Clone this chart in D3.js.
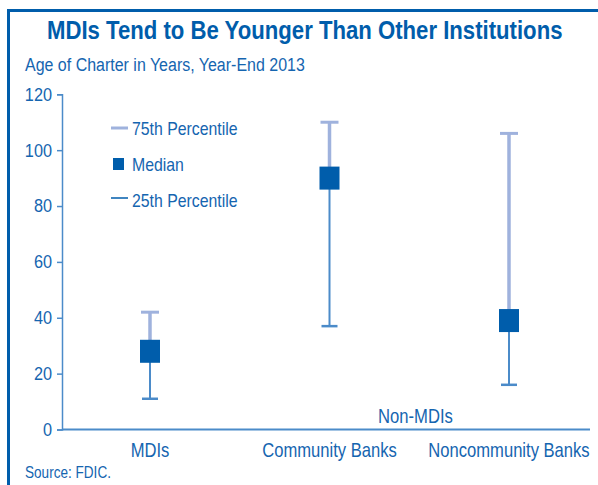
<!DOCTYPE html>
<html>
<head>
<meta charset="utf-8">
<script src="https://cdn.jsdelivr.net/npm/d3@7"></script>
<style>
  html, body { margin: 0; padding: 0; background: #fff; }
  svg { display: block; font-family: "Liberation Sans", Arial, sans-serif; }
</style>
</head>
<body>
<svg id="chart" width="598" height="485"></svg>
<script>
'use strict'

// data
const categories = ['MDIs', 'Community Banks', 'Noncommunity Banks']
const p25 = [11, 37, 16]
const medians = [28, 90, 39]
const p75 = [42, 110, 106]
const yTicks = [0, 20, 40, 60, 80, 100, 120]
const legendItems = ['75th Percentile', 'Median', '25th Percentile']

const dark = '#005dab'
const textBlue = '#1565b0'
const light = '#9fb2dd'
const mid = '#4b8bc9'

// no condensed font installed -> squeeze glyphs horizontally (Helvetica Condensed look)
function condense(sel, k) {
  sel.each(function() {
    const t = d3.select(this)
    const tx = +t.attr('x') || 0, ty = +t.attr('y') || 0
    t.attr('x', 0).attr('y', 0)
      .attr('transform', `translate(${tx},${ty}) scale(${k},1)`)
  })
}
function fit(sel, w) {
  sel.each(function() {
    condense(d3.select(this), w / this.getComputedTextLength())
  })
}

const svg = d3.select('#chart')

// frame (left + top only)
svg.append('path')
  .attr('d', 'M8.5,485V10.5H598')
  .attr('fill', 'none')
  .attr('stroke', dark)
  .attr('stroke-width', 3)

svg.append('text')
  .attr('x', 47).attr('y', 39)
  .attr('font-size', 26.5).attr('font-weight', 'bold')
  .attr('fill', dark)
  .text('MDIs Tend to Be Younger Than Other Institutions')
  .call(fit, 516)

svg.append('text')
  .attr('x', 25).attr('y', 71)
  .attr('font-size', 19)
  .attr('fill', textBlue)
  .text('Age of Charter in Years, Year-End 2013')
  .call(fit, 280)

svg.append('text')
  .attr('x', 25).attr('y', 478)
  .attr('font-size', 16)
  .attr('fill', textBlue)
  .text('Source: FDIC.')
  .call(fit, 86)

const y = d3.scaleLinear().domain([0, 120]).range([429.5, 94.3])
const x = d3.scalePoint().domain(categories).range([150, 509])

// y axis
const yAxis = svg.append('g')
  .attr('transform', 'translate(62,0)')
  .call(d3.axisLeft(y).tickValues(yTicks).tickSize(5).tickPadding(5))
yAxis.select('.domain').attr('stroke', mid).attr('stroke-width', 1.5)
yAxis.selectAll('.tick line').attr('stroke', mid).attr('stroke-width', 1.5)
yAxis.selectAll('.tick text')
  .attr('fill', textBlue)
  .attr('font-size', 18.5)
  .attr('font-family', null)
  .call(condense, 0.88)

// x axis baseline
svg.append('line')
  .attr('x1', 62).attr('x2', 590)
  .attr('y1', y(0)).attr('y2', y(0))
  .attr('stroke', mid).attr('stroke-width', 2)

svg.selectAll('.cat-label')
  .data(categories)
  .join('text')
    .attr('class', 'cat-label')
    .attr('x', d => x(d))
    .attr('y', 457)
    .attr('text-anchor', 'middle')
    .attr('font-size', 20)
    .attr('fill', textBlue)
    .text(d => d)
    .call(condense, 0.83)

svg.append('text')
  .attr('x', 378)
  .attr('y', 423)
  .attr('font-size', 20)
  .attr('fill', textBlue)
  .text('Non-MDIs')
  .call(fit, 75)

// whiskers and medians
const g = svg.append('g')
const rows = categories.map((c, i) => ({ cat: c, lo: p25[i], med: medians[i], hi: p75[i] }))

g.selectAll('.upper')
  .data(rows)
  .join('line')
    .attr('class', 'upper')
    .attr('x1', d => x(d.cat)).attr('x2', d => x(d.cat))
    .attr('y1', d => y(d.hi)).attr('y2', d => y(d.med))
    .attr('stroke', light).attr('stroke-width', 3.5)

g.selectAll('.upper-cap')
  .data(rows)
  .join('line')
    .attr('class', 'upper-cap')
    .attr('x1', d => x(d.cat) - 9).attr('x2', d => x(d.cat) + 9)
    .attr('y1', d => y(d.hi)).attr('y2', d => y(d.hi))
    .attr('stroke', light).attr('stroke-width', 3)

g.selectAll('.lower')
  .data(rows)
  .join('line')
    .attr('class', 'lower')
    .attr('x1', d => x(d.cat)).attr('x2', d => x(d.cat))
    .attr('y1', d => y(d.med)).attr('y2', d => y(d.lo))
    .attr('stroke', mid).attr('stroke-width', 2)

g.selectAll('.lower-cap')
  .data(rows)
  .join('line')
    .attr('class', 'lower-cap')
    .attr('x1', d => x(d.cat) - 8).attr('x2', d => x(d.cat) + 8)
    .attr('y1', d => y(d.lo)).attr('y2', d => y(d.lo))
    .attr('stroke', mid).attr('stroke-width', 2.5)

g.selectAll('rect')
  .data(rows)
  .join('rect')
    .attr('x', d => x(d.cat) - 10)
    .attr('y', d => y(d.med) - 11.5)
    .attr('width', 20).attr('height', 23)
    .attr('fill', dark)

// legend
const legend = svg.append('g')
legend.append('line')
  .attr('x1', 111).attr('x2', 128).attr('y1', 128).attr('y2', 128)
  .attr('stroke', light).attr('stroke-width', 3)
legend.append('rect')
  .attr('x', 113).attr('y', 158).attr('width', 11).attr('height', 12)
  .attr('fill', dark)
legend.append('line')
  .attr('x1', 111).attr('x2', 128).attr('y1', 198).attr('y2', 198)
  .attr('stroke', dark).attr('stroke-width', 1.5)
legend.selectAll('text')
  .data(legendItems)
  .join('text')
    .attr('x', 132)
    .attr('y', (d, i) => 134.5 + i * 36)
    .attr('font-size', 18)
    .attr('fill', textBlue)
    .text(d => d)
    .call(condense, 0.88)
</script>
</body>
</html>
